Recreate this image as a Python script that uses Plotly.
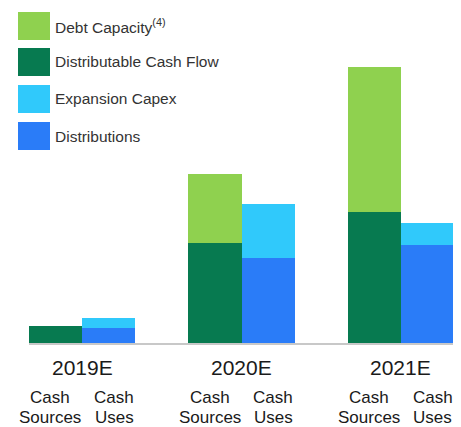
import plotly.graph_objects as go

# ---- data ----
years = ["2019E", "2020E", "2021E"]
distributable_cash_flow = [17, 100, 131]
debt_capacity = [0, 69, 145]
distributions = [15, 85, 98]
expansion_capex = [10, 54, 22]

series_names = ["Debt Capacity<sup>(4)</sup>", "Distributable Cash Flow", "Expansion Capex", "Distributions"]
source_label = "Sources"
use_label = "Uses"

# ---- styles ----
C_DEBT = "#8fd14f"
C_DCF = "#077a50"
C_CAPEX = "#30c9fb"
C_DIST = "#2a7cf8"
FONT = "Liberation Sans, Arial, sans-serif"

OFF = 8  # page body margin
W, H = 461 - OFF, 427 - OFF
ML, MR, MT, MB = 29 - OFF, 7, 67 - OFF, 84
PW, PH = W - ML - MR, H - MT - MB

x_src = [3 * i - 0.5 for i in range(len(years))]
x_use = [3 * i + 0.5 for i in range(len(years))]

fig = go.Figure()
fig.add_bar(x=x_src, y=distributable_cash_flow, width=1, marker=dict(color=C_DCF, line_width=0), name="Distributable Cash Flow")
fig.add_bar(x=x_src, y=debt_capacity, width=1, marker=dict(color=C_DEBT, line_width=0), name="Debt Capacity")
fig.add_bar(x=x_use, y=distributions, width=1, marker=dict(color=C_DIST, line_width=0), name="Distributions")
fig.add_bar(x=x_use, y=expansion_capex, width=1, marker=dict(color=C_CAPEX, line_width=0), name="Expansion Capex")


def px_x(px):
    return (px - OFF - ML) / PW


def px_y(py):
    return (H - MB - (py - OFF)) / PH


annotations = []
shapes = []

# custom legend
legend_colors = [C_DEBT, C_DCF, C_CAPEX, C_DIST]
row_tops = [12, 48, 85, 122]
for name, col, top in zip(series_names, legend_colors, row_tops):
    shapes.append(dict(type="rect", xref="paper", yref="paper",
                       x0=px_x(18), x1=px_x(50), y0=px_y(top + 28), y1=px_y(top),
                       fillcolor=col, line_width=0, layer="above"))
    annotations.append(dict(xref="paper", yref="paper", x=px_x(53), y=px_y(top + 14),
                            text=name, showarrow=False, xanchor="left", yanchor="middle",
                            font=dict(family=FONT, size=15.5, color="#333333")))

# category labels
for i, yr in enumerate(years):
    cx = 3 * i
    annotations.append(dict(xref="x", yref="paper", x=cx, y=px_y(367.5), text=yr,
                            showarrow=False, xanchor="center", yanchor="middle",
                            font=dict(family=FONT, size=21, color="#1a1a1a")))
    for dx, lab in ((-0.6, source_label), (0.6, use_label)):
        annotations.append(dict(xref="x", yref="paper", x=cx + dx, y=px_y(397.5), text="Cash",
                                showarrow=False, xanchor="center", yanchor="middle",
                                font=dict(family=FONT, size=17, color="#1a1a1a")))
        annotations.append(dict(xref="x", yref="paper", x=cx + dx, y=px_y(417), text=lab,
                                showarrow=False, xanchor="center", yanchor="middle",
                                font=dict(family=FONT, size=17, color="#1a1a1a")))

fig.update_layout(
    width=W, height=H,
    margin=dict(l=ML, r=MR, t=MT, b=MB, pad=0),
    barmode="stack",
    showlegend=False,
    plot_bgcolor="white", paper_bgcolor="white",
    xaxis=dict(range=[-1, 7], showgrid=False, zeroline=False, showticklabels=False, ticks="",
               showline=True, linecolor="#c8c8c8", linewidth=2),
    yaxis=dict(range=[0, PH], visible=False, showgrid=False, zeroline=False),
    annotations=annotations,
    shapes=shapes,
)

fig.write_html("out.html")
